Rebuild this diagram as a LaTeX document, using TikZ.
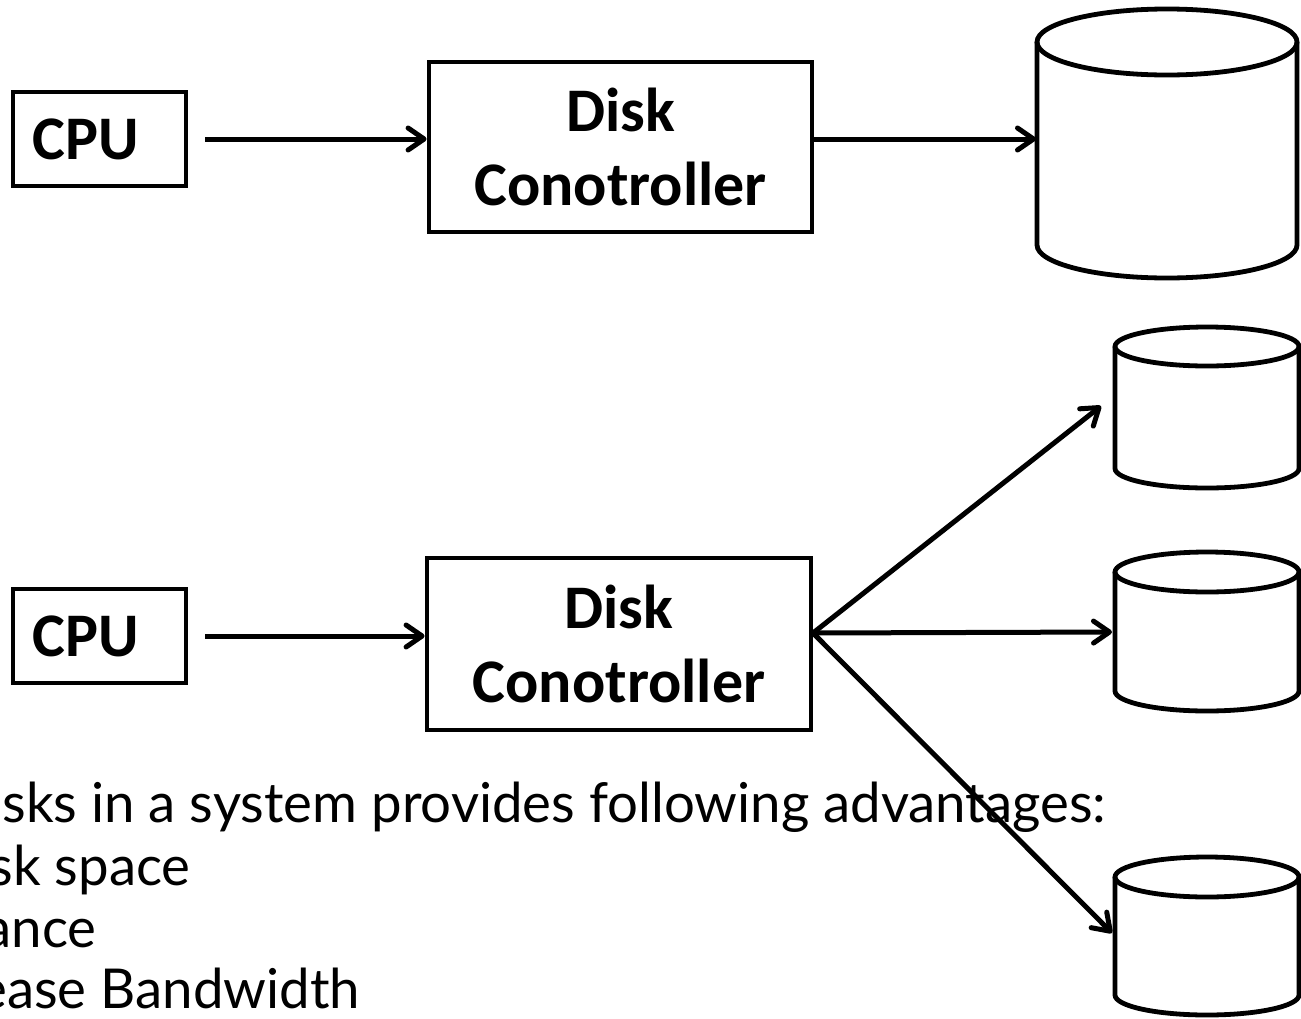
\documentclass[tikz,border=0pt]{standalone}
\usepackage{fontspec}
\setmainfont{Carlito}
\newfontfamily\notefont{Lato}
\usetikzlibrary{arrows.meta}
\newsavebox\noteline
\newlength\notelinewd
% cylinder: #1 centre x, #2 top centre y, #3 bottom centre y, #4 x radius, #5 y radius
\newcommand\drumdraw[5]{%
  \fill[white] (#1-#4,#2) -- (#1-#4,#3)
    arc[start angle=180, end angle=0, x radius=#4, y radius=#5]
    -- (#1+#4,#2) arc[start angle=0, end angle=180, x radius=#4, y radius=#5] -- cycle;
  \draw[drum] (#1-#4,#2) -- (#1-#4,#3)
    arc[start angle=180, end angle=0, x radius=#4, y radius=#5] -- (#1+#4,#2);
  \draw[drum] (#1,#2) ellipse[x radius=#4, y radius=#5];
}
\begin{document}
% width of the first note line sets the horizontal stretch of all note lines
\sbox\noteline{\notefont\fontsize{55}{62}\selectfont sks in a system provides following advantages:}%
\setlength\notelinewd{\wd\noteline}%
\pgfmathsetmacro\tsx{1104/\notelinewd}%
\begin{tikzpicture}[x=1pt, y=-1pt, line width=4.8pt,
  box/.style={draw, fill=white, inner sep=0pt, align=center,
    font=\bfseries\fontsize{62}{74}\selectfont},
  drum/.style={draw, line join=round},
  link/.style={line width=5pt, -{Straight Barb[length=16pt, width=22pt, round]}},
  note/.style={inner sep=0pt, font=\notefont\fontsize{55}{62}\selectfont}]
\useasboundingbox (0,0) rectangle (1301,1018);
\clip (0,0) rectangle (1301,1018);
\fill[white] (0,0) rectangle (1301,1018);

% ---- note text (lies under the lower fan of links)
\node[note, anchor=base west] (n1) at (0,822) {\scalebox{\tsx}[1]{sks in a system provides following advantages:}};
\node[note, anchor=base east] (n2) at (193,885) {\scalebox{\tsx}[1]{sk space}};
\node[note, anchor=base east] (n3) at (99,947) {\scalebox{\tsx}[1]{ance}};
\node[note, anchor=base west] (n4) at (-24,1008) {\scalebox{\tsx}[1]{ease Bandwidth}};

% ---- single-disk system
\node[box, minimum width=173pt, minimum height=94pt] (cpuA) at (99.5,139) {CPU\hspace*{28pt}};
\node[box, minimum width=383pt, minimum height=170pt] (ctlA) at (620.5,147) {Disk\\Conotroller};
\drumdraw{1167}{42}{245}{130}{33}
\coordinate (bigIn) at (1036,139);

\draw[link, shorten <=17pt] (cpuA.east) -- (cpuA.east -| ctlA.west);
\draw[link] (ctlA.east |- cpuA.east) -- (bigIn);

% ---- multi-disk system
\node[box, minimum width=173pt, minimum height=94pt] (cpuB) at (99.5,636) {CPU\hspace*{28pt}};
\node[box, minimum width=384pt, minimum height=172pt] (ctlB) at (619,644) {Disk\\Conotroller};
\drumdraw{1207}{346.5}{468.5}{92}{19.5}
\drumdraw{1207}{572}{691}{92}{20}
\drumdraw{1207}{877}{995}{92}{20}
\coordinate (fan) at (813,633);
\coordinate (dAin) at (1101,406);
\coordinate (dBin) at (1112,632);
\coordinate (dCin) at (1112,933);

\draw[link, shorten <=17pt] (cpuB.east) -- (cpuB.east -| ctlB.west);
\draw[link] (fan) -- (dAin);
\draw[link] (fan) -- (dBin);
\draw[link] (fan) -- (dCin);
\end{tikzpicture}
\end{document}
